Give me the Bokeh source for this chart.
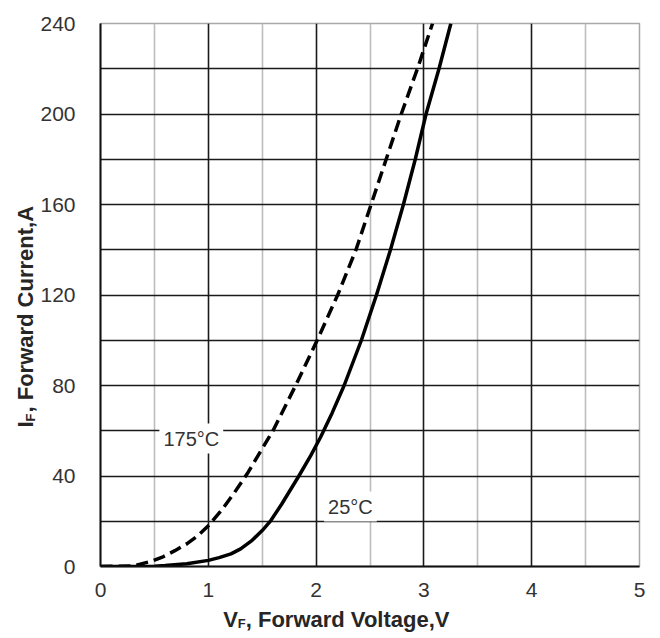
import math
from bokeh.plotting import figure
from bokeh.models import Range1d, FixedTicker, Label
from bokeh.layouts import row, column
from bokeh.core.properties import value
from bokeh.embed import file_html
from bokeh.resources import INLINE

# ---- data ----
v_25 = [0.0, 0.3, 0.5, 0.6, 0.8, 1.0, 1.1, 1.21, 1.3, 1.4, 1.5, 1.58, 1.68, 1.84, 1.95, 2.04, 2.15, 2.26, 2.42, 2.56, 2.69, 2.81, 2.92, 3.02, 3.14, 3.25]
i_25 = [0.0, 0.0, 0.1, 0.4, 1.2, 2.7, 3.9, 5.6, 7.8, 11.3, 15.9, 20.3, 27.5, 40.0, 49.0, 57.0, 68.0, 80.0, 100.0, 120.0, 140.0, 160.0, 180.0, 200.0, 220.0, 240.0]

v_175 = [0.0, 0.3, 0.47, 0.58, 0.69, 0.8, 0.9, 1.0, 1.12, 1.24, 1.37, 1.49, 1.6, 1.81, 2.01, 2.2, 2.37, 2.51, 2.65, 2.79, 2.94, 3.08]
i_175 = [0.0, 0.2, 2.3, 4.3, 7.0, 10.0, 13.5, 18.0, 24.7, 32.5, 41.7, 51.3, 60.0, 80.0, 100.0, 120.0, 140.0, 160.0, 180.0, 200.0, 220.0, 240.0]

x_ticks = [0, 1, 2, 3, 4, 5]
y_ticks = [0, 40, 80, 120, 160, 200, 240]
x_major_grid = [1, 2, 3, 4]
x_minor_grid = [0.5, 1.5, 2.5, 3.5, 4.5]
y_grid = [20, 40, 60, 80, 100, 120, 140, 160, 180, 200, 220]

label_25 = "25°C"
label_175 = "175°C"
x_title = ["V", "F", ", Forward Voltage,V"]
y_title = ["I", "F", ", Forward Current,A"]

FONT = "Liberation Sans"
TITLE_COLOR = "#262626"

# page geometry
W, H = 660, 638
YT_W = 37          # strip for the y title
XT_H = 30          # strip for the x title
PW, PH = W - YT_W, H - XT_H
L, R, T, B = 99 - YT_W, 21, 23, PH - 566

p = figure(width=PW, height=PH, output_backend="svg", toolbar_location=None, title=None,
           x_range=Range1d(0, 5), y_range=Range1d(0, 240),
           min_border_left=L, min_border_right=R, min_border_top=T, min_border_bottom=B)
p.background_fill_color = "white"
p.border_fill_color = "white"
p.outline_line_color = "#a8a8a8"
p.outline_line_width = 1.5

for ax, ticks in ((p.xaxis[0], x_ticks), (p.yaxis[0], y_ticks)):
    ax.ticker = FixedTicker(ticks=ticks)
    ax.major_tick_line_color = None
    ax.minor_tick_line_color = None
    ax.major_tick_in = 0
    ax.major_tick_out = 0
    ax.minor_tick_in = 0
    ax.minor_tick_out = 0
    ax.axis_line_color = "#111111"
    ax.axis_line_width = 2
    ax.major_label_text_font = FONT
    ax.major_label_text_font_size = "21px"
    ax.major_label_text_color = "#333333"
p.xaxis[0].major_label_standoff = 16
p.yaxis[0].major_label_standoff = 25

p.xgrid[0].ticker = FixedTicker(ticks=x_major_grid, minor_ticks=x_minor_grid)
p.xgrid[0].grid_line_color = "#1a1a1a"
p.xgrid[0].grid_line_width = 1.6
p.xgrid[0].minor_grid_line_color = "#bdbdbd"
p.xgrid[0].minor_grid_line_width = 1.6
p.ygrid[0].ticker = FixedTicker(ticks=y_grid)
p.ygrid[0].grid_line_color = "#1a1a1a"
p.ygrid[0].grid_line_width = 1.6

p.line(v_25, i_25, line_color="black", line_width=3.5)
p.line(v_175, i_175, line_color="black", line_width=3.5, line_dash="12 6")

def dx(px):
    return (px - 99) / 540 * 5.0

def dy(py):
    return (566 - py) / 543 * 240.0

p.add_layout(Label(x=dx(158), y=dy(438), text=label_175, text_font=FONT, text_font_size="20px",
                   text_color="#333333", text_baseline="middle", text_align="left",
                   background_fill_color="white", padding=4))
p.add_layout(Label(x=dx(323), y=dy(506), text=label_25, text_font=FONT, text_font_size="20px",
                   text_color="#333333", text_baseline="middle", text_align="left",
                   background_fill_color="white", padding=4))

# ---- title strips (helper figures without axes) ----
def strip(w, h, x_range):
    f = figure(width=w, height=h, output_backend="svg", toolbar_location=None, title=None,
               x_range=x_range, y_range=Range1d(0, h),
               x_axis_location=None, y_axis_location=None,
               min_border=0, min_border_left=0, min_border_right=0,
               min_border_top=0, min_border_bottom=0)
    f.outline_line_color = None
    f.grid.visible = False
    f.background_fill_color = "white"
    f.border_fill_color = "white"
    return f

def piece(f, x, y, text, size, angle=0.0):
    f.text(x=[x], y=[y], text=[text], angle=angle, text_font=value(FONT),
           text_font_size=value(size), text_font_style="bold", text_color=TITLE_COLOR,
           text_align="left", text_baseline="middle")

# y title strip: page x 0..YT_W, page y 0..638 (pixel coordinates, y up)
yt = strip(YT_W, H, Range1d(0, YT_W))
piece(yt, 24.5, H - 427, y_title[0], "22px", math.pi / 2)
piece(yt, 29.5, H - 421, y_title[1], "13px", math.pi / 2)
piece(yt, 24.5, H - 412, y_title[2], "22px", math.pi / 2)

# x title strip: its frame lines up with the plot frame, so share the x range
xt = strip(PW, XT_H, p.x_range)
piece(xt, dx(222), H - 619, x_title[0], "22px")
piece(xt, dx(236.5), H - 623, x_title[1], "13px")
piece(xt, dx(244.5), H - 619, x_title[2], "22px")

layout = row(yt, column(p, xt, spacing=0), spacing=0)

open("out.html", "w").write(file_html(layout, INLINE))
